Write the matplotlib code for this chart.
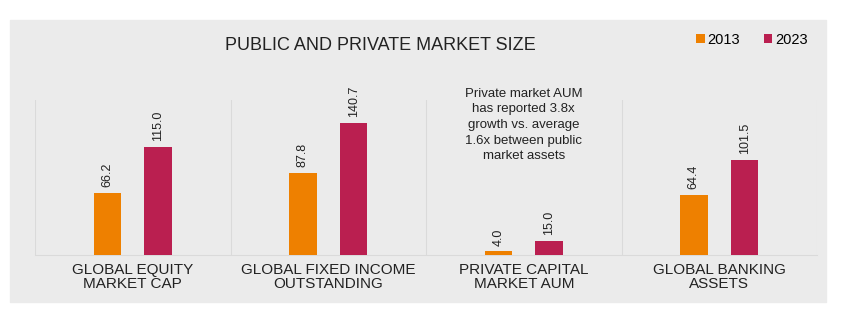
import matplotlib.pyplot as plt
import numpy as np
from matplotlib.patches import Rectangle

categories = ["GLOBAL EQUITY\nMARKET CAP", "GLOBAL FIXED INCOME\nOUTSTANDING",
              "PRIVATE CAPITAL\nMARKET AUM", "GLOBAL BANKING\nASSETS"]
years = ["2013", "2023"]
values_2013 = [66.2, 87.8, 4.0, 64.4]
values_2023 = [115.0, 140.7, 15.0, 101.5]
colors = ["#EE8000", "#BA1F50"]
note = ("Private market AUM\nhas reported 3.8x\ngrowth vs. average\n"
        "1.6x between public\nmarket assets")

plain = ["Liberation Sans", "DejaVu Sans"]

fig = plt.figure(figsize=(8.47, 3.24), dpi=100)
W, H = 847, 324
# grey panel behind everything
fig.patches.append(Rectangle((10 / W, 1 - 302 / H), 816 / W, 282 / H,
                             transform=fig.transFigure, color="#EBEBEB", zorder=-5))

ax = fig.add_axes([35 / W, 1 - 255 / H, 782 / W, 155 / H])
ax.set_zorder(2)
ax.set_facecolor("none")
x = np.arange(len(categories))
width = 0.14
off = 0.13
for vals, c, lab, sign in [(values_2013, colors[0], years[0], -1),
                           (values_2023, colors[1], years[1], 1)]:
    bars = ax.bar(x + sign * off, vals, width, color=c, label=lab, zorder=3)
    for b, v in zip(bars, vals):
        ax.annotate(f"{v:.1f}", (b.get_x() + b.get_width() / 2, b.get_height()),
                    xytext=(0, 4), textcoords="offset points", rotation=90,
                    ha="center", va="bottom", fontsize=9, family=plain,
                    color="#222222")

ax.set_xlim(-0.5, len(categories) - 0.5)
ax.set_ylim(0, 165)
for s in ["top", "right", "left"]:
    ax.spines[s].set_visible(False)
ax.spines["bottom"].set_color("#DADADA")
for sep in np.arange(-0.5, len(categories), 1.0):
    ax.axvline(sep, color="#DADADA", lw=0.8, zorder=1)
ax.set_yticks([])
ax.set_xticks(x)
ax.set_xticklabels(categories, family=plain, fontsize=11, color="#222222",
                   linespacing=1.0)
ax.tick_params(axis="x", length=0, pad=6)

ax.text(2, 178, note, ha="center", va="top", fontsize=9.5, family=plain,
        color="#222222", linespacing=1.4)

fig.text(380 / W, 1 - 45 / H, "PUBLIC AND PRIVATE MARKET SIZE", ha="center",
         va="center", fontsize=13, family=plain, color="#222222")

leg = fig.legend(loc="center", bbox_to_anchor=(752 / W, 1 - 40 / H), ncol=2,
                 frameon=False, handlelength=0.6, handleheight=0.6,
                 handletextpad=0.2, columnspacing=1.6,
                 prop={"family": plain, "size": 10.5})

fig.savefig("out.png", dpi=100)
